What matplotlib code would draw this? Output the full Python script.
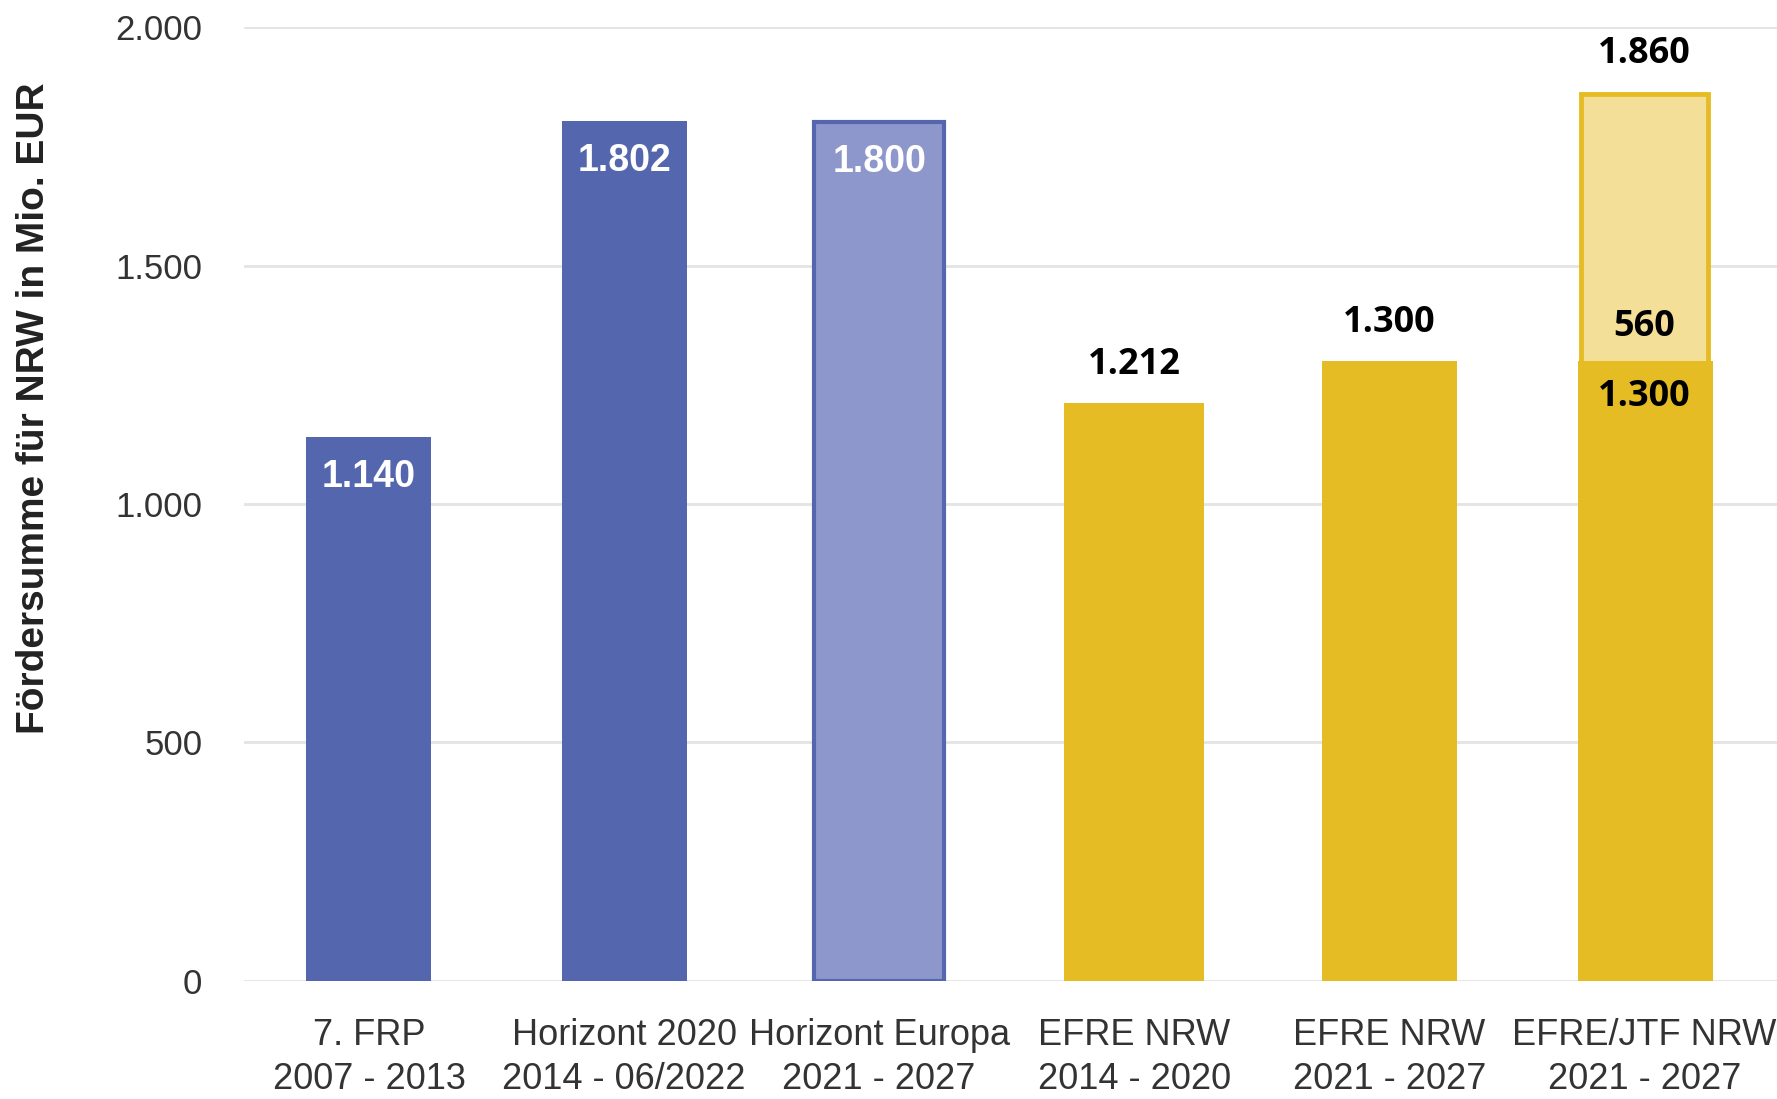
import matplotlib.pyplot as plt
from matplotlib.ticker import FuncFormatter

# Daten
programme = ["7. FRP\n2007 - 2013", "Horizont 2020\n2014 - 06/2022", "Horizont Europa\n2021 - 2027",
             "EFRE NRW\n2014 - 2020", "EFRE NRW\n2021 - 2027", "EFRE/JTF NRW\n2021 - 2027"]
foerdersumme = [1140, 1802, 1800, 1212, 1300, 1300]
zusatz_jtf = [0, 0, 0, 0, 0, 560]
wert_labels = ["1.140", "1.802", "1.800", "1.212", "1.300", "1.300"]
zusatz_label = "560"
summe_label = "1.860"
yticks = [0, 500, 1000, 1500, 2000]

blau = "#5467AE"
hellblau = "#8E97CC"
gelb = "#E6BC24"
hellgelb = "#F3DF97"

narrow = ["Liberation Sans Narrow", "Liberation Sans", "DejaVu Sans"]
arial = ["Liberation Sans", "DejaVu Sans"]
calibri = ["Open Sans", "DejaVu Sans"]

fig = plt.figure(figsize=(17.77, 10.99), dpi=100)
ax = fig.add_axes([0.1373, 0.1074, 0.8627, 0.868])

x = list(range(len(programme)))

# blaue Balken (EU Forschungsrahmenprogramme)
ax.bar(x[0:2], foerdersumme[0:2], width=0.49, color=blau, zorder=3)
ax.bar(x[2], foerdersumme[2], width=0.51, color=hellblau, edgecolor=blau, linewidth=3, zorder=3)

# gelbe Balken (EFRE)
ax.bar(x[3], foerdersumme[3], width=0.55, color=gelb, zorder=3)
ax.bar(x[4], foerdersumme[4], width=0.53, color=gelb, zorder=3)
gesamt = foerdersumme[5] + zusatz_jtf[5]
ax.bar(x[5], gesamt, width=0.50, color=hellgelb, edgecolor=gelb, linewidth=3.5, zorder=3)
ax.bar(x[5] + 0.005, foerdersumme[5], width=0.53, color=gelb, zorder=4)

# Beschriftungen
for i in range(3):
    ax.annotate(wert_labels[i], (x[i], foerdersumme[i]), xytext=(0, -40), textcoords="offset pixels",
                ha="center", va="center", color="white", fontsize=27, fontweight="bold",
                family=narrow, zorder=5)
for i in range(3, 5):
    ax.annotate(wert_labels[i], (x[i], foerdersumme[i]), xytext=(0, 38), textcoords="offset pixels",
                ha="center", va="center", color="black", fontsize=26, fontweight="bold",
                family=calibri, zorder=5)
ax.annotate(wert_labels[5], (x[5], foerdersumme[5]), xytext=(0, -36), textcoords="offset pixels",
            ha="center", va="center", color="black", fontsize=26, fontweight="bold",
            family=calibri, zorder=5)
ax.annotate(zusatz_label, (x[5], foerdersumme[5]), xytext=(0, 34), textcoords="offset pixels",
            ha="center", va="center", color="black", fontsize=26, fontweight="bold",
            family=calibri, zorder=5)
ax.annotate(summe_label, (x[5], gesamt), xytext=(0, 40), textcoords="offset pixels",
            ha="center", va="center", color="black", fontsize=26, fontweight="bold",
            family=calibri, zorder=5)

# Achsen
ax.set_xlim(-0.49, 5.52)
ax.set_ylim(0, 2000)
ax.set_yticks(yticks)
ax.yaxis.set_major_formatter(FuncFormatter(lambda v, p: f"{int(v):,}".replace(",", ".")))
ax.set_xticks(x)
ax.set_xticklabels(programme, linespacing=1.32)
for lab in ax.get_yticklabels():
    lab.set_family(arial)
    lab.set_fontsize(25)
    lab.set_color("#333333")
for lab in ax.get_xticklabels():
    lab.set_family(arial)
    lab.set_fontsize(26)
    lab.set_color("#333333")
ax.tick_params(axis="y", length=0, pad=30)
ax.tick_params(axis="x", length=0, pad=27)
ax.grid(axis="y", color="#E4E4E4", linewidth=2, zorder=0)
for s in ax.spines.values():
    s.set_visible(False)

fig.text(34 / 1777, 1 - 408 / 1099, "Fördersumme für NRW in Mio. EUR", rotation=90,
         ha="center", va="center", fontsize=28, fontweight="bold", family=arial, color="#222222")

fig.savefig("out.png", dpi=100)
